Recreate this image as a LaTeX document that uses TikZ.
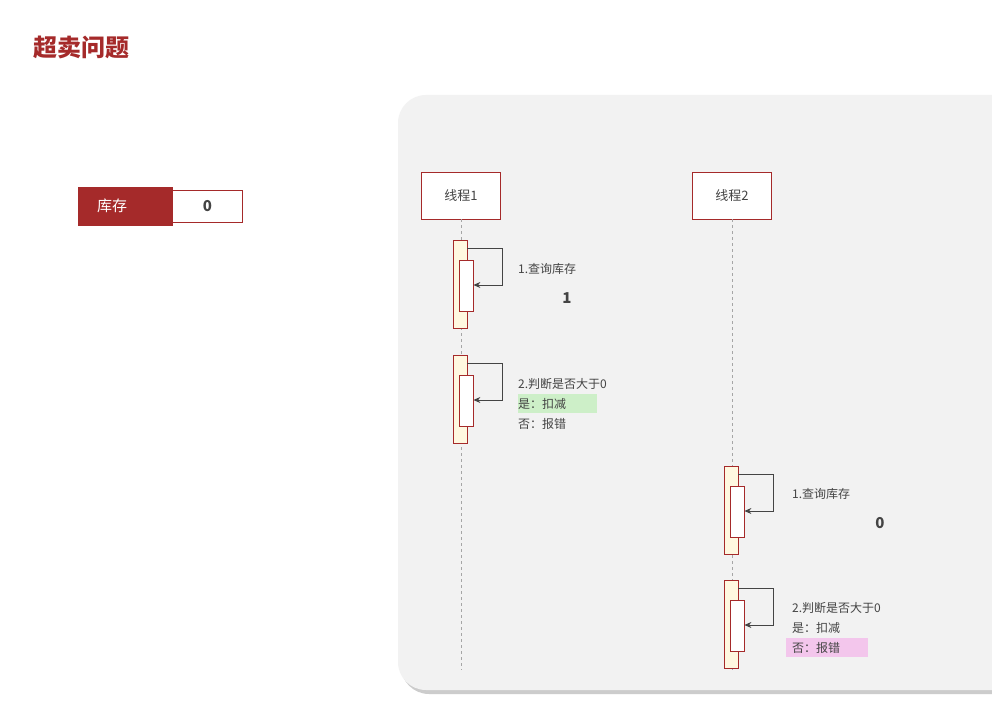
\documentclass[tikz,border=0pt]{standalone}
\usepackage{fontspec}
\setmainfont{Noto Sans CJK SC}
\newfontfamily\cjkmono{Noto Sans CJK SC}
\usetikzlibrary{arrows.meta,shadows}
\definecolor{dred}{HTML}{A52A2A}
\definecolor{panel}{HTML}{F2F2F2}
\definecolor{txt}{HTML}{444444}
\definecolor{act}{HTML}{FFF8E0}
\definecolor{hlg}{HTML}{CDEFC8}
\definecolor{hlp}{HTML}{F3C6EC}
\tikzset{
 thread/.style={draw=dred,thick,fill=white,minimum width=79pt,minimum height=47pt,font=\fontsize{13}{13}\selectfont,text=txt},
 outer/.style={draw=dred,thick,fill=act},
 inner/.style={draw=dred,thick,fill=white},
 self/.style={draw=txt,thick,-{Stealth[length=7pt,width=6pt]}},
 lbl/.style={anchor=west,font=\fontsize{12}{14}\selectfont,text=txt,inner sep=1pt},
 life/.style={draw=gray!70,dashed},
}
\begin{document}
\begin{tikzpicture}[x=1pt,y=-1pt]
\useasboundingbox (0,0) rectangle (992,706);
\fill[white] (0,0) rectangle (992,706);
\fill[gray!40,rounded corners=28pt] (401,99) rectangle (1030,694);
\fill[panel,rounded corners=28pt] (398,95) rectangle (1030,690);
\node[anchor=west,text=dred,font=\fontsize{24}{24}\selectfont\bfseries] (title) at (30,47) {超卖问题};
% stock
\node[fill=dred,draw=dred,minimum width=94pt,minimum height=38pt,anchor=west,text=white,font=\fontsize{15}{15}\selectfont,inner sep=0pt] (stk) at (78,206) {\hspace*{-26pt}库存};
\node[fill=white,draw=dred,thick,minimum width=70pt,minimum height=32pt,anchor=west,text=txt,font=\fontsize{15}{15}\selectfont\bfseries] (stv) at (172,206) {0};
% threads
\node[thread] (t1) at (461,195.5) {线程1};
\node[thread] (t2) at (732,195.5) {线程2};
\coordinate (e1) at (461,670);
\coordinate (e2) at (732,670);
\draw[life] (t1.south) -- (e1);
\draw[life] (t2.south) -- (e2);
% activations thread1
\foreach \x/\y/\n in {461/240/a1,461/355/a2,732/466/b1,732/580/b2}{
  \node[outer,minimum width=14pt,minimum height=88pt,anchor=north,inner sep=0pt] (\n o) at (\x-1,\y) {};
  \node[inner,minimum width=14pt,minimum height=51pt,anchor=north,inner sep=0pt] (\n i) at (\x+5,\y+20) {};
  \draw[self] ([yshift=-8pt]\n o.north east) -| ++(35,37) coordinate (\n c) -- (\n c -| \n i.east);
}
% labels
\fill[hlg] (518,394) rectangle (597,413);
\fill[hlp] (786,638) rectangle (868,657);
\node[lbl] (l1) at (517,269) {1.查询库存};
\node[text=txt,font=\fontsize{15}{15}\selectfont\bfseries] (v1) at (567,298) {1};
\node[lbl] (l2) at (517,384) {2.判断是否大于0};
\node[lbl] (l3) at (517,404) {是：扣减};
\node[lbl] (l4) at (517,424) {否：报错};
\node[lbl] (m1) at (791,494) {1.查询库存};
\node[text=txt,font=\fontsize{15}{15}\selectfont\bfseries] (v2) at (880,523) {0};
\node[lbl] (m2) at (791,608) {2.判断是否大于0};
\node[lbl] (m3) at (791,628) {是：扣减};
\node[lbl] (m4) at (791,648) {否：报错};
\end{tikzpicture}
\end{document}
